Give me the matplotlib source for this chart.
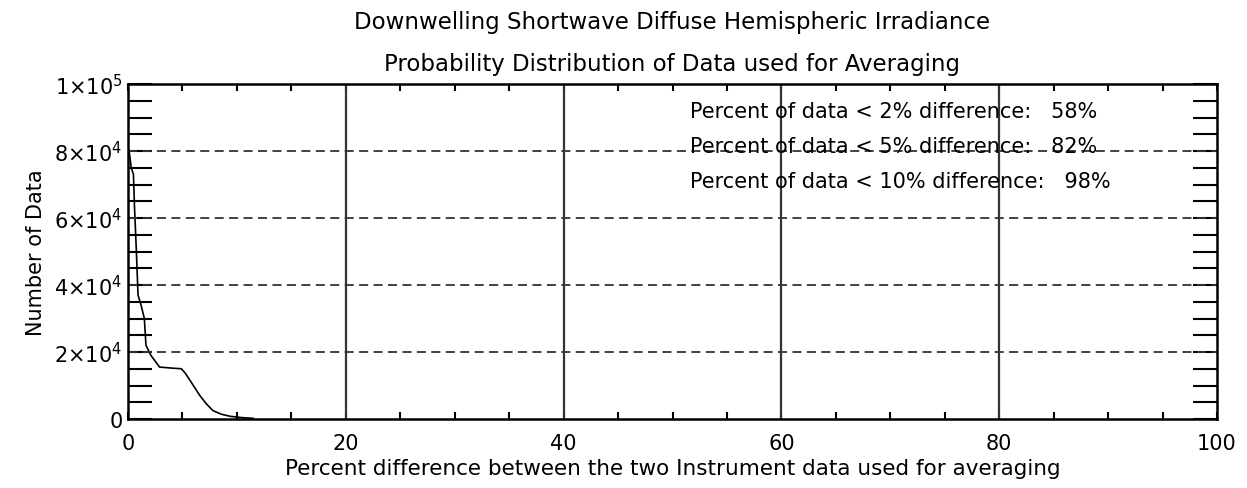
import matplotlib.pyplot as plt
from matplotlib.ticker import MultipleLocator

# percent difference vs number of data
pct = [0.0, 0.1, 0.3, 0.5, 0.6, 0.77, 0.92, 1.2, 1.5, 1.65, 2.1, 2.9, 4.0, 4.9,
       5.3, 6.0, 6.6, 7.2, 7.8, 8.6, 9.4, 10.5, 11.5]
counts = [81000, 80000, 75000, 73000, 63000, 50000, 37000, 34000, 30000, 22000,
          19000, 15500, 15200, 15000, 13500, 10000, 7000, 4500, 2500, 1400,
          800, 400, 200]

ytick_vals = [0, 20000, 40000, 60000, 80000, 100000]
ytick_labels = ["0", r"$2{\times}10^4$", r"$4{\times}10^4$", r"$6{\times}10^4$",
                r"$8{\times}10^4$", r"$1{\times}10^5$"]
xtick_vals = [0, 20, 40, 60, 80, 100]
notes = ["Percent of data < 2% difference:   58%",
         "Percent of data < 5% difference:   82%",
         "Percent of data < 10% difference:   98%"]
note_y = [92000, 81500, 71000]

plt.rcParams['font.family'] = ['DejaVu Sans']
plt.rcParams['mathtext.fontset'] = 'dejavusans'

fig = plt.figure(figsize=(12.47, 4.89), dpi=100)
ax = fig.add_axes([128 / 1247, 1 - 420 / 489, (1217 - 128) / 1247, (420 - 85) / 489])

ax.plot(pct, counts, color='black', lw=1.2)

for v in [20, 40, 60, 80]:
    ax.axvline(v, color='#333333', lw=1.6)
for v in [20000, 40000, 60000, 80000]:
    ax.axhline(v, color='#333333', lw=1.3, ls=(0, (5, 3)))

for y, t in zip(note_y, notes):
    ax.text(51.6, y, t, fontsize=15, va='center', ha='left', color='black')

ax.set_xlim(0, 100)
ax.set_ylim(0, 100000)
ax.set_xticks(xtick_vals)
ax.set_yticks(ytick_vals)
ax.set_yticklabels(ytick_labels)
ax.xaxis.set_minor_locator(MultipleLocator(5))
ax.yaxis.set_minor_locator(MultipleLocator(5000))
ax.tick_params(axis='x', which='both', direction='in', top=True, length=5,
               width=1.5, labelsize=15, pad=10)
ax.tick_params(axis='y', which='both', direction='in', right=True, length=17,
               width=1.5, labelsize=15, pad=4)
for s in ax.spines.values():
    s.set_linewidth(1.8)

ax.set_xlabel("Percent difference between the two Instrument data used for averaging",
              fontsize=15.5, labelpad=4)
ax.set_ylabel("Number of Data", fontsize=15, labelpad=6)

fig.text(672 / 1247, 1 - 22 / 489, "Downwelling Shortwave Diffuse Hemispheric Irradiance",
         ha='center', va='center', fontsize=16.5)
fig.text(672 / 1247, 1 - 65 / 489, "Probability Distribution of Data used for Averaging",
         ha='center', va='center', fontsize=16.5)

fig.savefig("out.png", dpi=100)
